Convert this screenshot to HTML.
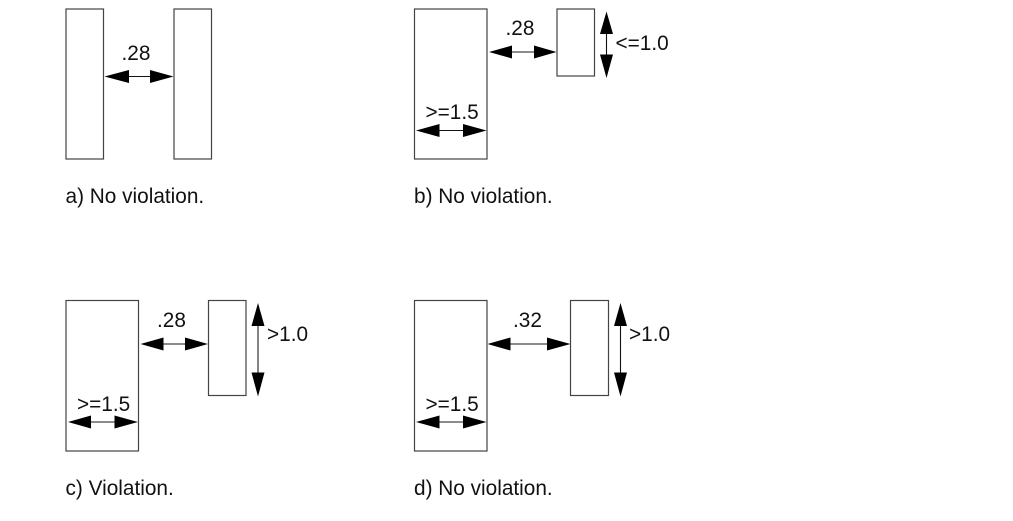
<!DOCTYPE html>
<html>
<head>
<meta charset="utf-8">
<style>
html,body{margin:0;padding:0;background:#fff;width:1013px;height:521px;overflow:hidden}
svg{display:block}
text{font-family:"Liberation Sans",Arial,sans-serif;font-size:20.8px;fill:#111}
rect{fill:#fff;stroke:#444;stroke-width:1.2}
line{stroke:#111;stroke-width:1.1}
line.g{stroke:#666;stroke-width:1.6}
polygon{fill:#000}
</style>
</head>
<body>
<svg width="1013" height="521" viewBox="0 0 1013 521" xmlns="http://www.w3.org/2000/svg">
<!-- a -->
<rect x="66" y="9" width="37.5" height="150"/>
<rect x="174" y="9" width="37.5" height="150"/>
<line x1="125" y1="76.5" x2="152" y2="76.5"/>
<polygon points="104.5,76.5 129,70 129,83"/>
<polygon points="173.5,76.5 150,70 150,83"/>
<text x="121.5" y="60">.28</text>
<text x="65.5" y="203">a) No violation.</text>
<!-- b -->
<rect x="414.5" y="9" width="72.5" height="150"/>
<rect x="557" y="9" width="37.5" height="67"/>
<line class="g" x1="510" y1="52" x2="536" y2="52"/>
<polygon points="489,52 512,45.5 512,58.5"/>
<polygon points="556.5,52 534,45.5 534,58.5"/>
<line x1="606.5" y1="32" x2="606.5" y2="56"/>
<polygon points="606.5,11.5 600,34 613,34"/>
<polygon points="606.5,78 600,54.5 613,54.5"/>
<line x1="436" y1="130.5" x2="466" y2="130.5"/>
<polygon points="416,130.5 439.5,124 439.5,137"/>
<polygon points="486.5,130.5 463,124 463,137"/>
<text x="505.5" y="35">.28</text>
<text x="615.5" y="50">&lt;=1.0</text>
<text x="425.5" y="119">&gt;=1.5</text>
<text x="414" y="203">b) No violation.</text>
<!-- c -->
<rect x="66" y="300.5" width="72.5" height="150.5"/>
<rect x="208.5" y="300.5" width="37.5" height="95"/>
<line class="g" x1="160" y1="344" x2="188" y2="344"/>
<polygon points="140.5,344 163.5,337.5 163.5,350.5"/>
<polygon points="208,344 185,337.5 185,350.5"/>
<line class="g" x1="258" y1="324" x2="258" y2="375"/>
<polygon points="258,303 251.5,326 264.5,326"/>
<polygon points="258,396.5 251.5,372.5 264.5,372.5"/>
<line class="g" x1="88" y1="422" x2="118" y2="422"/>
<polygon points="68,422 91,415.5 91,428.5"/>
<polygon points="138,422 114.5,415.5 114.5,428.5"/>
<text x="157" y="327">.28</text>
<text x="267" y="341">&gt;1.0</text>
<text x="77" y="411">&gt;=1.5</text>
<text x="65.5" y="495">c) Violation.</text>
<!-- d -->
<rect x="414.5" y="300.5" width="72.5" height="150.5"/>
<rect x="570.5" y="300.5" width="38" height="95"/>
<line class="g" x1="508" y1="344" x2="550" y2="344"/>
<polygon points="487.5,344 510.5,337.5 510.5,350.5"/>
<polygon points="570.5,344 547,337.5 547,350.5"/>
<line x1="620.5" y1="324" x2="620.5" y2="375"/>
<polygon points="620.5,303 614,326 627,326"/>
<polygon points="620.5,396.5 614,372.5 627,372.5"/>
<line class="g" x1="436" y1="422" x2="466" y2="422"/>
<polygon points="416,422 439.5,415.5 439.5,428.5"/>
<polygon points="486.5,422 463,415.5 463,428.5"/>
<text x="513" y="327">.32</text>
<text x="629" y="341">&gt;1.0</text>
<text x="425.5" y="411">&gt;=1.5</text>
<text x="414" y="495">d) No violation.</text>
</svg>
</body>
</html>
